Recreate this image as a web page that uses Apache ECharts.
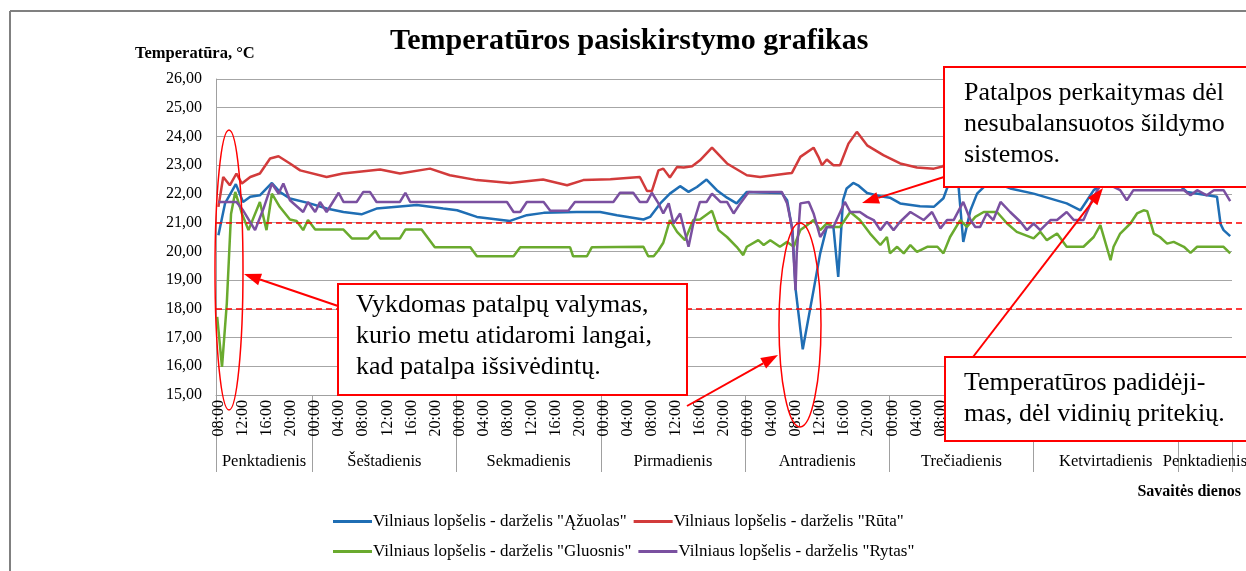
<!DOCTYPE html>
<html>
<head>
<meta charset="utf-8">
<script src="https://cdn.jsdelivr.net/npm/echarts@6/dist/echarts.min.js"></script>
<style>
  html, body { margin: 0; padding: 0; background: #fff; }
  #chart { width: 1246px; height: 571px; }
</style>
</head>
<body>
<div id="chart"></div>
<script>
// x – valandos nuo penktadienio 00:00
var dienos = ['Penktadienis', 'Šeštadienis', 'Sekmadienis', 'Pirmadienis', 'Antradienis', 'Trečiadienis', 'Ketvirtadienis', 'Penktadienis'];
var dienuRibos = [8, 24, 48, 72, 96, 120, 144, 168, 177];
var dienuCentrai = [16, 36, 60, 84, 108, 132, 156, 172.5];
var pavadinimai = [
  'Vilniaus lopšelis - darželis "Ąžuolas"',
  'Vilniaus lopšelis - darželis "Rūta"',
  'Vilniaus lopšelis - darželis "Gluosnis"',
  'Vilniaus lopšelis - darželis "Rytas"'
];
var ribos = [21, 18]; // raudonos brūkšninės linijos

var azuolas = [[8.4,20.56],[9.5,21.67],[11.3,22.34],[12.5,21.72],[13.7,21.9],[15.3,21.95],[17.3,22.38],[18.6,22.07],[20.3,21.84],[23.6,21.67],[26.4,21.49],[29.2,21.37],[32.2,21.29],[34.7,21.49],[38.1,21.55],[41.4,21.61],[45.8,21.49],[48.1,21.43],[51.4,21.2],[56.9,21.06],[59.7,21.26],[62.5,21.34],[68,21.37],[71.9,21.37],[74.7,21.26],[79.1,21.11],[80.2,21.2],[81.9,21.67],[83.5,22.01],[85.2,22.27],[86.6,22.07],[88,22.24],[89.6,22.5],[91.3,22.13],[93,21.87],[94.6,21.67],[96.3,22.07],[98.5,22.05],[102.1,22.03],[103,21.78],[103.9,20.7],[104.4,18.7],[105.6,16.59],[107.4,18.65],[108.5,19.93],[109.6,20.85],[110.7,20.85],[111.5,19.11],[112.3,21.78],[112.9,22.19],[114,22.38],[114.8,22.3],[116.3,22.03],[118.5,21.92],[120.1,21.87],[121.8,21.67],[125.1,21.57],[127.4,21.55],[129,21.85],[130.1,22.48],[131.5,22.3],[132.3,20.33],[133.5,21.43],[134.6,22.01],[135.7,22.24],[137.5,22.4],[140.1,22.19],[144,22.01],[149.5,21.67],[151.8,21.43],[152.9,21.78],[154,22.13],[156,22.4],[160,22.5],[164,22.45],[168,22.35],[169.5,22.07],[174.5,21.9],[175.1,20.95],[175.6,20.74],[176.7,20.53]];

var ruta = [[8.4,21.55],[9.2,22.59],[10.3,22.3],[11.4,22.71],[12.3,22.36],[13.7,22.59],[15.3,22.71],[17,23.23],[18.4,23.31],[20.3,23.06],[22,22.82],[26.4,22.59],[29.1,22.71],[35.3,22.85],[38.6,22.71],[43.6,22.88],[46.9,22.65],[51.4,22.48],[56.9,22.38],[62.4,22.5],[66.4,22.3],[69.1,22.48],[73.6,22.51],[78.5,22.59],[79.7,22.1],[80.5,22.1],[81.6,22.82],[82.4,22.88],[83.5,22.57],[84.7,22.94],[85.8,22.92],[87.2,22.96],[88.5,23.17],[90.5,23.61],[93,23.06],[96.3,22.65],[98.5,22.59],[103,22.71],[103.8,22.73],[105.2,23.29],[107.4,23.61],[108.2,23.29],[108.8,23.0],[109.6,23.2],[110.7,23.0],[111.8,23.0],[113.2,23.75],[114.6,24.16],[116.3,23.69],[119,23.35],[121.8,23.06],[124.6,22.92],[127.4,22.88],[129,22.96],[130.1,23.5],[131.5,23.9],[136,23.6],[142,23.8],[148,23.5],[154,23.9],[160,23.6],[166,23.8],[172,23.5],[176.7,23.4]];

var gluosnis = [[8.2,17.72],[9,15.98],[9.8,18.2],[10.5,21.3],[11.2,22.07],[12.3,21.32],[13.4,20.74],[15.3,21.72],[16.4,20.74],[17.3,22.01],[18.6,21.55],[20.3,21.11],[21.4,21.06],[22.5,20.74],[23.3,21.09],[24.5,20.76],[29.2,20.76],[30.6,20.45],[33.3,20.45],[34.5,20.71],[35.3,20.45],[38.6,20.45],[39.5,20.76],[42.2,20.76],[44.4,20.14],[50.3,20.14],[51.4,19.83],[57.5,19.83],[58.6,20.14],[66.9,20.14],[67.4,19.83],[69.7,19.83],[70.5,20.14],[79.1,20.16],[79.9,19.83],[80.8,19.83],[81.6,20.04],[82.4,20.3],[83.5,21.09],[84.7,20.68],[86,20.39],[87.4,21.09],[88.5,21.11],[90.5,21.41],[91.6,20.74],[93,20.5],[94.6,20.16],[95.7,19.87],[96.3,20.16],[98.2,20.39],[99.1,20.22],[100.2,20.39],[101.8,20.16],[103,20.33],[104.1,20.16],[105.2,20.74],[106.3,20.91],[107.4,21.09],[108.5,20.74],[109.6,20.97],[110.7,20.85],[111.8,20.85],[113.5,21.37],[115.1,21.09],[116.8,20.62],[118.5,20.22],[119.6,20.5],[120.1,19.93],[121.3,20.16],[122.4,19.93],[123.5,20.22],[124.6,19.98],[126.3,20.16],[128,20.16],[129,19.93],[130.1,20.5],[131.8,21.09],[132.9,20.85],[134.3,21.2],[135.7,21.37],[137.9,21.37],[139.6,20.97],[141.2,20.68],[144,20.45],[145.1,20.68],[146.2,20.39],[147.9,20.62],[149.5,20.16],[152.3,20.16],[154,20.5],[155.1,20.91],[156.8,19.69],[157.3,20.16],[158.4,20.62],[160.1,20.97],[161.2,21.32],[162.3,21.43],[162.9,21.4],[164,20.62],[165,20.5],[166.2,20.27],[167.3,20.33],[169,20.16],[170.1,19.95],[171.2,20.16],[175.6,20.16],[176.7,19.93]];

var rytas = [[8.4,21.72],[11.4,21.72],[12.5,21.43],[14.5,20.74],[15.9,21.49],[17.3,22.36],[18.4,22.01],[19.2,22.36],[20.3,21.78],[22.5,21.37],[23.3,21.72],[24.5,21.37],[25.3,21.72],[26.4,21.37],[28.4,22.04],[29.2,21.72],[31.4,21.72],[32.5,22.07],[33.6,22.07],[34.7,21.72],[38.6,21.72],[39.5,22.04],[40.3,21.72],[56.4,21.72],[57.5,21.37],[58.6,21.37],[59.7,21.72],[62.5,21.72],[63.6,21.41],[66.6,21.41],[67.7,21.72],[74.1,21.72],[75.2,22.04],[77.4,22.04],[78.5,21.72],[79.7,21.72],[80.5,22.04],[81.6,21.67],[82.4,21.32],[83.3,21.67],[84.1,20.97],[85.2,21.32],[86.6,20.16],[87.4,20.97],[88.5,21.72],[89.6,21.72],[90.5,22.01],[91.9,21.72],[93,21.72],[94.1,21.32],[95.2,21.67],[96.6,22.07],[102.1,22.07],[103,21.67],[103.8,20.85],[104.4,18.65],[104.6,19.93],[105.2,21.67],[106.6,21.72],[107.4,21.32],[108.5,20.5],[109.6,20.85],[110.7,20.85],[112.6,21.72],[113.5,21.37],[115.1,21.37],[116.3,21.2],[117.4,21.09],[118.5,20.74],[119.6,21.03],[120.7,20.74],[121.8,21.03],[123.5,21.37],[125.7,21.09],[127.1,21.37],[128.5,20.8],[129.6,21.09],[130.7,21.09],[132.3,21.72],[133.5,21.09],[134.3,20.85],[135.1,20.85],[136.2,21.32],[137.3,21.09],[138.5,21.72],[140.1,21.37],[141.8,21.03],[142.9,20.74],[144,20.97],[145.1,20.74],[146.8,21.09],[147.9,21.09],[149.5,21.37],[150.7,21.09],[152.3,21.09],[154,21.9],[155.1,22.3],[156.8,22.3],[158.4,22.13],[159.5,21.78],[160.6,22.13],[164.5,22.13],[169,22.13],[170.1,21.95],[171.2,22.13],[172.8,21.95],[174,22.13],[175.6,22.13],[176.7,21.75]];

var spalvos = ['#1f6eb4', '#d23b3b', '#6aaa2e', '#7a50a0'];
var serif = "'Liberation Serif', serif";

// laiko žymės – kas 4 valandas, kategorijos viduryje
var laikoZymes = [];
for (var t = 8; t < 177; t += 4) laikoZymes.push(t + 0.5);

var chart = echarts.init(document.getElementById('chart'));

function laikas(v) {
  var h = Math.floor(v) % 24;
  return (h < 10 ? '0' : '') + h + ':00';
}

// rodyklė su smaigaliu
function rodykle(x1, y1, x2, y2) {
  var a = Math.atan2(y2 - y1, x2 - x1), L = 17, W = 6;
  var bx = x2 - L * Math.cos(a), by = y2 - L * Math.sin(a);
  return [
    { type: 'line', z: 100, shape: { x1: x1, y1: y1, x2: bx, y2: by }, style: { stroke: '#ff0000', lineWidth: 2 } },
    { type: 'polygon', z: 100, shape: { points: [[x2, y2], [bx - W * Math.sin(a), by + W * Math.cos(a)], [bx + W * Math.sin(a), by - W * Math.cos(a)]] }, style: { fill: '#ff0000' } }
  ];
}

function dezute(x, y, w, h, eilutes, tx, ty) {
  var el = [{ type: 'rect', z: 100, shape: { x: x, y: y, width: w, height: h }, style: { fill: '#fff', stroke: '#ff0000', lineWidth: 2 } }];
  eilutes.forEach(function (t, i) {
    el.push({ type: 'text', z: 101, x: tx, y: ty + i * 31, style: { text: t, font: '26px ' + serif, fill: '#000', verticalAlign: 'middle' } });
  });
  return el;
}

var grafika = [
  { type: 'line', z: 100, shape: { x1: 10, y1: 11, x2: 1246, y2: 11 }, style: { stroke: '#808080', lineWidth: 2 } },
  { type: 'line', z: 100, shape: { x1: 10, y1: 11, x2: 10, y2: 571 }, style: { stroke: '#808080', lineWidth: 2 } },
  { type: 'text', x: 135, y: 54, style: { text: 'Temperatūra, °C', font: 'bold 16.5px ' + serif, fill: '#000', verticalAlign: 'middle' } },
  { type: 'text', x: 1241, y: 492, style: { text: 'Savaitės dienos', font: 'bold 16px ' + serif, fill: '#000', align: 'right', verticalAlign: 'middle' } },
  { type: 'ellipse', z: 100, shape: { cx: 229, cy: 270, rx: 14, ry: 140 }, style: { fill: 'none', stroke: '#ff0000', lineWidth: 1.5 } },
  { type: 'ellipse', z: 100, shape: { cx: 800, cy: 325, rx: 21, ry: 102 }, style: { fill: 'none', stroke: '#ff0000', lineWidth: 1.5 } }
]
  .concat(dezute(338, 284, 349, 111, ['Vykdomas patalpų valymas,', 'kurio metu atidaromi langai,', 'kad patalpa išsivėdintų.'], 356, 305))
  .concat(dezute(944, 67, 320, 120, ['Patalpos perkaitymas dėl', 'nesubalansuotos šildymo', 'sistemos.'], 964, 93))
  .concat(dezute(945, 357, 320, 84, ['Temperatūros padidėji-', 'mas, dėl vidinių pritekių.'], 964, 383))
  .concat(rodykle(338, 306, 244, 274))
  .concat(rodykle(687, 406, 778, 355))
  .concat(rodykle(944, 177, 862, 203))
  .concat(rodykle(973, 357, 1103, 188));

var legendaBendra = {
  left: 333, itemWidth: 39, itemHeight: 3, itemGap: 7, icon: 'rect', padding: 0,
  textStyle: { fontFamily: serif, fontSize: 17, color: '#000', padding: [0, 0, 0, -4] }
};

var serijos = [azuolas, ruta, gluosnis, rytas].map(function (d, i) {
  var s = {
    name: pavadinimai[i], type: 'line', data: d, showSymbol: false, symbol: 'none',
    lineStyle: { width: 2.5, color: spalvos[i] }, itemStyle: { color: spalvos[i] }, z: 2 + i
  };
  if (i === 0) {
    s.markLine = {
      silent: true, symbol: 'none', label: { show: false },
      lineStyle: { color: '#ff0000', type: [6, 4], width: 1.5 },
      data: ribos.map(function (r) { return [{ xAxis: 8, yAxis: r }, { xAxis: 177, yAxis: r, x: 1246 }]; })
    };
  }
  return s;
});

chart.setOption({
  animation: false,
  textStyle: { fontFamily: serif },
  title: {
    text: 'Temperatūros pasiskirstymo grafikas', left: 390, top: 26, padding: 0,
    textStyle: { fontFamily: serif, fontWeight: 'bold', fontSize: 30, color: '#000' }
  },
  legend: [
    Object.assign({ top: 513, data: [pavadinimai[0], pavadinimai[1]] }, legendaBendra),
    Object.assign({ top: 543, data: [pavadinimai[2], pavadinimai[3]] }, legendaBendra)
  ],
  grid: { left: 216, top: 79, width: 1016, height: 316, outerBoundsMode: 'none' },
  xAxis: [
    {
      type: 'value', min: 8, max: 177, position: 'bottom',
      axisLine: { show: true, lineStyle: { color: '#a0a0a0' } },
      axisTick: { show: true, customValues: dienuRibos, length: 77, lineStyle: { color: '#a0a0a0' } },
      axisLabel: { customValues: laikoZymes, rotate: 90, margin: 5, fontFamily: serif, fontSize: 16, color: '#000', formatter: laikas },
      splitLine: { show: false }
    },
    {
      type: 'value', min: 8, max: 177, position: 'bottom',
      axisLine: { show: false }, axisTick: { show: false }, splitLine: { show: false },
      axisLabel: {
        customValues: dienuCentrai, margin: 58, fontFamily: serif, fontSize: 16.5, color: '#000',
        formatter: function (v) { return dienos[dienuCentrai.indexOf(v)]; }
      }
    }
  ],
  yAxis: {
    type: 'value', min: 15, max: 26, interval: 1,
    axisLine: { show: true, lineStyle: { color: '#a0a0a0' } },
    axisTick: { show: false },
    axisLabel: { margin: 14, fontFamily: serif, fontSize: 16, color: '#000', formatter: function (v) { return v.toFixed(2).replace('.', ','); } },
    splitLine: { lineStyle: { color: '#a6a6a6' } }
  },
  series: serijos,
  graphic: grafika
});
</script>
</body>
</html>
